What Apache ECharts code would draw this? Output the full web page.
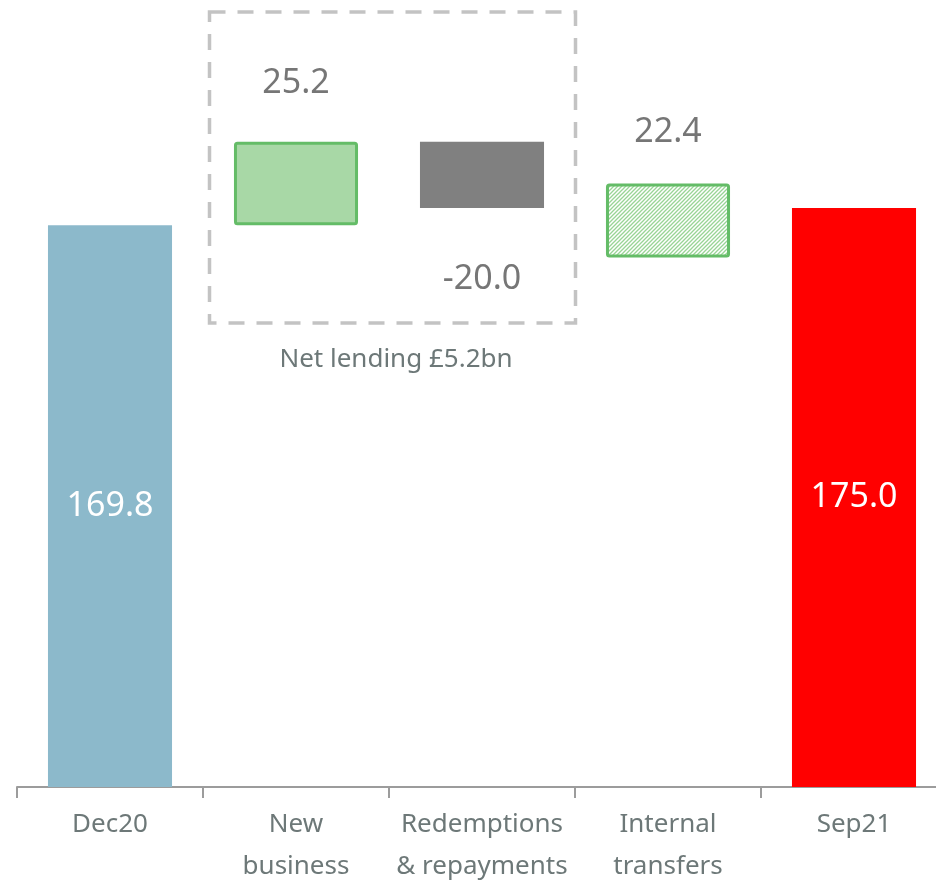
<!DOCTYPE html>
<html>
<head>
<meta charset="utf-8">
<script src="https://cdn.jsdelivr.net/npm/echarts@6/dist/echarts.min.js"></script>
<style>
  html, body { margin: 0; padding: 0; background: #ffffff; }
  #chart { width: 936px; height: 885px; }
</style>
</head>
<body>
<div id="chart"></div>
<script>
// ---- data ----
const categories = ['Dec20', 'New\nbusiness', 'Redemptions\n& repayments', 'Internal\ntransfers', 'Sep21'];
const values = [169.8, 25.2, -20.0, 22.4, 175.0];
const bases = [0, 169.8, 175.0, 160.0, 0];
const valueLabels = ['169.8', '25.2', '-20.0', '22.4', '175.0'];
const boxCaption = 'Net lending £5.2bn';

// ---- styles ----
const FONT = 'Noto Sans';
const GREEN = '#64bc67';
function hatchPattern() {
  const c = document.createElement('canvas');
  c.width = 4; c.height = 4;
  const g = c.getContext('2d');
  g.fillStyle = '#ffffff';
  g.fillRect(0, 0, 4, 4);
  g.strokeStyle = '#98d495';
  g.lineWidth = 1.3;
  g.beginPath();
  g.moveTo(0, 4); g.lineTo(4, 0);
  g.moveTo(-1, 1); g.lineTo(1, -1);
  g.moveTo(3, 5); g.lineTo(5, 3);
  g.stroke();
  return c;
}
const itemStyles = [
  { color: '#8cb9cb' },
  { color: '#a8d8a6', borderColor: GREEN, borderWidth: 3, borderRadius: 2 },
  { color: '#808080' },
  { color: { image: hatchPattern(), repeat: 'repeat' }, borderColor: GREEN, borderWidth: 3, borderRadius: 2 },
  { color: '#ff0000' }
];
const labelStyles = [
  { position: 'inside', color: '#ffffff' },
  { position: 'top', distance: 41, color: '#767676' },
  { position: 'bottom', distance: 54, color: '#767676' },
  { position: 'top', distance: 34, color: '#767676' },
  { position: 'inside', color: '#ffffff' }
];

const chart = echarts.init(document.getElementById('chart'));
chart.setOption({
  animation: false,
  backgroundColor: '#ffffff',
  grid: { left: 17, width: 930, top: 26, bottom: 98, containLabel: false, outerBoundsMode: 'none' },
  xAxis: {
    type: 'category',
    data: categories,
    axisLine: { lineStyle: { color: '#9c9c9c', width: 2 } },
    axisTick: { show: true, length: 11, lineStyle: { color: '#9c9c9c', width: 2 } },
    axisLabel: { interval: 0, fontFamily: FONT, fontSize: 26, lineHeight: 42, color: '#6d7878', margin: 17 }
  },
  yAxis: { type: 'value', min: 0, max: 230, show: false, splitLine: { show: false } },
  series: [
    {
      type: 'bar', stack: 'w', barCategoryGap: '33.3%',
      itemStyle: { color: 'transparent' },
      emphasis: { disabled: true },
      data: bases
    },
    {
      type: 'bar', stack: 'w', barCategoryGap: '33.3%',
      data: values.map((v, i) => ({
        value: Math.abs(v),
        itemStyle: itemStyles[i],
        label: Object.assign({
          show: true, fontFamily: FONT, fontSize: 34,
          formatter: () => valueLabels[i]
        }, labelStyles[i])
      }))
    }
  ],
  graphic: [
    {
      type: 'rect', silent: true,
      shape: { x: 209.5, y: 12, width: 366, height: 311 },
      style: { fill: 'none', stroke: '#c3c3c3', lineWidth: 3.5, lineDash: [16, 12] }
    },
    {
      type: 'text', silent: true, x: 396, y: 360,
      style: { text: boxCaption, fontFamily: FONT, fontSize: 26, fill: '#6d7878', align: 'center', verticalAlign: 'middle' }
    }
  ]
});
</script>
</body>
</html>
